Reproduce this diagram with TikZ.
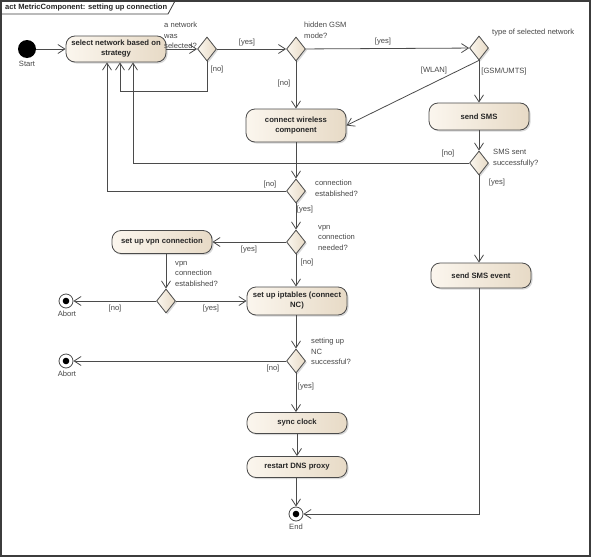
\documentclass[tikz,border=0pt]{standalone}
\usepackage{fontspec}
\setmainfont{Liberation Sans}
\usetikzlibrary{arrows.meta,shapes.geometric,shadows,calc}
\definecolor{boxL}{RGB}{251,246,238}
\definecolor{boxR}{RGB}{231,218,198}
\definecolor{ln}{RGB}{75,75,75}
\definecolor{txt}{RGB}{70,70,70}
\definecolor{frame}{RGB}{60,60,60}
\begin{document}
\begin{tikzpicture}[x=1pt,y=-1pt,
  font=\fontsize{7.6}{10.5}\selectfont,
  shad/.style={drop shadow={shadow xshift=1.5pt,shadow yshift=-1.5pt,opacity=0.3}},
  act/.style={draw=ln, line width=0.8pt, rounded corners=9pt, left color=boxL, right color=boxR,
    minimum width=100pt, inner sep=1pt, align=center, text=black!85,
    font=\fontsize{7.7}{10}\selectfont\bfseries, shad},
  dec/.style={diamond, draw=ln, line width=0.8pt, left color=boxL, right color=boxR,
    minimum width=19pt, minimum height=24pt, inner sep=0pt, shad},
  arr/.style={draw=ln, line width=0.8pt, -{Straight Barb[length=7pt,width=9pt,line width=0.8pt]}},
  lbl/.style={text=txt, inner sep=0pt, align=left},
  fin/.style={circle, draw=ln, line width=0.8pt, fill=white, minimum size=14pt, inner sep=0pt,
    path picture={\fill[black] (path picture bounding box.center) circle (3.3pt);}}
]
\useasboundingbox (0,0) rectangle (591,557);
% frame
\draw[frame, line width=1.2pt] (1,1) rectangle (590,556);
\draw[frame, line width=0.8pt] (1,14) -- (168,14) -- (175,1);
\node[anchor=west, inner sep=0pt, font=\fontsize{7.6}{9}\selectfont\bfseries, text=black!85] (title) at (5,7.5) {act MetricComponent: setting up connection};

% nodes
\node[circle, fill=black, minimum size=18pt, inner sep=0pt] (start) at (27,49) {};
\node[lbl, anchor=north] (startl) at (27,61) {Start};
\node[act, minimum height=26pt] (sel) at (116,49) {select network based on\\strategy};
\node[dec] (d1) at (207,49) {};
\node[dec] (d2) at (296,49) {};
\node[dec] (d3) at (479,48) {};
\node[act, minimum height=33pt] (cw) at (296,125.5) {connect wireless\\component};
\node[act, minimum height=27pt] (sms) at (479,116.5) {send SMS};
\node[dec] (d4) at (479,163) {};
\node[dec] (d5) at (296,191) {};
\node[dec] (d6) at (296,242) {};
\node[act, minimum height=23pt] (vpn) at (162,242) {set up vpn connection};
\node[dec] (d7) at (166,301) {};
\node[fin] (ab1) at (66,301) {};
\node[lbl, anchor=north] (ab1l) at (67,311) {Abort};
\node[act, minimum height=28pt] (ipt) at (297,301) {set up iptables (connect\\NC)};
\node[dec] (d8) at (296,361) {};
\node[fin] (ab2) at (66,361) {};
\node[lbl, anchor=north] (ab2l) at (67,371) {Abort};
\node[act, minimum height=21pt] (sync) at (297,423) {sync clock};
\node[act, minimum height=21pt] (dns) at (297,467) {restart DNS proxy};
\node[fin] (end) at (296,514) {};
\node[lbl, anchor=north] (endl) at (296,524) {End};
\node[act, minimum height=25pt] (smsev) at (481,275.5) {send SMS event};

% decision texts
\node[lbl, anchor=north west] (t1) at (164,22) {a network\\was\\selected?};
\node[lbl, anchor=north west] (t2) at (304,22) {hidden GSM\\mode?};
\node[lbl, anchor=west] (t3) at (492,33) {type of selected network};
\node[lbl, anchor=north west] (t4) at (493,149) {SMS sent\\successfully?};
\node[lbl, anchor=north west] (t5) at (315,180) {connection\\established?};
\node[lbl, anchor=north west] (t6) at (318,225) {vpn\\connection\\needed?};
\node[lbl, anchor=north west] (t7) at (175,261) {vpn\\connection\\established?};
\node[lbl, anchor=north west] (t8) at (311,338) {setting up\\NC\\successful?};

% guards
\node[lbl] (g1) at (247,43) {[yes]};
\node[lbl] (g2) at (217,70) {[no]};
\node[lbl] (g3) at (383,42) {[yes]};
\node[lbl] (g4) at (284,84) {[no]};
\node[lbl] (g5) at (434,71) {[WLAN]};
\node[lbl] (g6) at (504,72) {[GSM/UMTS]};
\node[lbl] (g7) at (448,154) {[no]};
\node[lbl] (g8) at (497,183) {[yes]};
\node[lbl] (g9) at (270,185) {[no]};
\node[lbl] (g10) at (305,210) {[yes]};
\node[lbl] (g11) at (249,250) {[yes]};
\node[lbl] (g12) at (307,263) {[no]};
\node[lbl] (g13) at (115,309) {[no]};
\node[lbl] (g14) at (211,309) {[yes]};
\node[lbl] (g15) at (273,369) {[no]};
\node[lbl] (g16) at (306,387) {[yes]};

% connectors
\draw[arr] (start) -- (sel);
\draw[arr] (sel) -- (d1);
\draw[arr] (d1) -- (d2);
\draw[arr] (d1.south) -- ++(0,30) -| ([xshift=4pt]sel.south);
\draw[arr] (d2) -- (d3);
\draw[arr] (d2) -- (cw);
\draw[arr] (d3) -- (sms);
\draw[arr] (d3.south) -- (cw.east);
\draw[arr] (sms) -- (d4);
\draw[arr] (d4.west) -| ([xshift=17pt]sel.south);
\draw[arr] (d4.south) -- (d4.south |- smsev.north);
\draw[arr] (d4.south |- smsev.south) |- (end.east);
\draw[arr] (cw) -- (d5);
\draw[arr] (d5.west) -| ([xshift=-9pt]sel.south);
\draw[arr] (d5) -- (d6);
\draw[arr] (d6) -- (vpn);
\draw[arr] (d6.south) -- (d6.south |- ipt.north);
\draw[arr] (vpn.south -| d7.north) -- (d7.north);
\draw[arr] (d7) -- (ab1);
\draw[arr] (d7) -- (ipt);
\draw[arr] (ipt.south -| d8.north) -- (d8.north);
\draw[arr] (d8) -- (ab2);
\draw[arr] (d8.south) -- (d8.south |- sync.north);
\draw[arr] (sync.south -| dns.north) -- (dns.north);
\draw[arr] (dns.south -| end.north) -- (end.north);
\end{tikzpicture}
\end{document}
